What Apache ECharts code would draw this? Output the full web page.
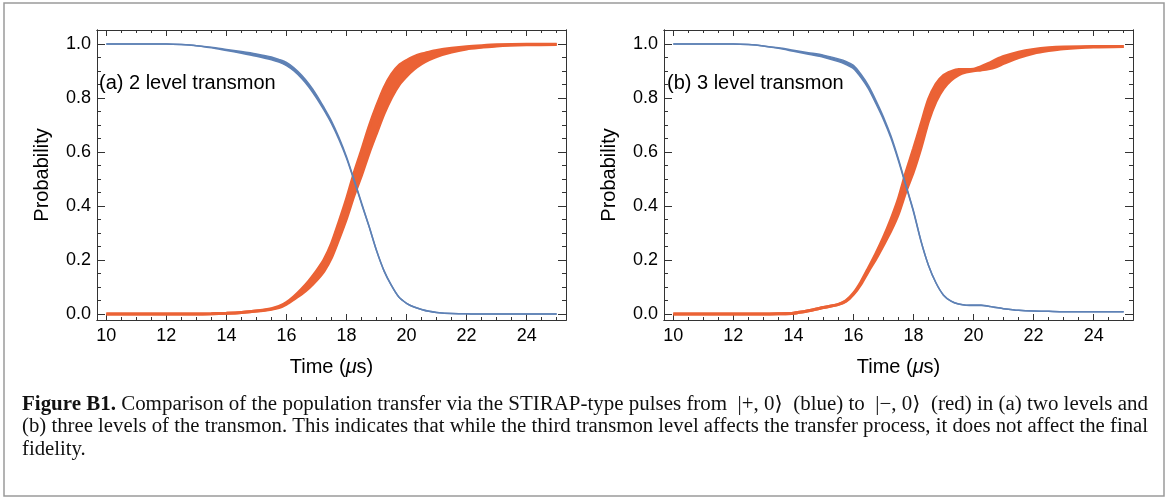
<!DOCTYPE html>
<html><head><meta charset="utf-8">
<script src="https://cdn.jsdelivr.net/npm/echarts@6/dist/echarts.min.js"></script>
<style>html,body{margin:0;padding:0;background:#fff}#c{width:1168px;height:499px}</style>
</head><body><div id="c"></div>
<script>
// ---- data ----
const time = [10, 11, 12, 12.5, 13, 13.5, 14, 14.5, 15, 15.5, 15.75, 16, 16.25, 16.5, 16.75, 17, 17.25, 17.5, 17.75, 18, 18.25, 18.5, 18.75, 19, 19.25, 19.5, 19.75, 20, 20.25, 20.5, 20.75, 21, 21.5, 22, 22.5, 23, 24, 25];

// (a) 2 level transmon
const blueA    = [1, 1, 1, 0.998, 0.994, 0.987, 0.978, 0.969, 0.959, 0.947, 0.938, 0.926, 0.906, 0.879, 0.846, 0.806, 0.76, 0.71, 0.65, 0.58, 0.497, 0.41, 0.325, 0.235, 0.16, 0.105, 0.062, 0.04, 0.026, 0.017, 0.01, 0.006, 0.002, 0.001, 0, 0, 0, 0];
const blueAOsc = [0, 0, 0, 0, 0, 0.001, 0.002, 0.003, 0.004, 0.005, 0.005, 0.006, 0.006, 0.006, 0.006, 0.006, 0.005, 0.005, 0.004, 0.003, 0.002, 0.002, 0.001, 0.001, 0, 0, 0, 0, 0, 0, 0, 0, 0, 0, 0, 0, 0, 0];
const redA     = [0, 0, 0, 0, 0, 0.001, 0.003, 0.006, 0.011, 0.019, 0.026, 0.04, 0.06, 0.083, 0.11, 0.142, 0.18, 0.235, 0.31, 0.39, 0.48, 0.56, 0.645, 0.72, 0.79, 0.845, 0.885, 0.91, 0.93, 0.945, 0.956, 0.965, 0.977, 0.986, 0.991, 0.995, 0.998, 0.999];
const redAOsc  = [0, 0, 0, 0, 0, 0, 0, 0, 0, 0.001, 0.002, 0.003, 0.005, 0.009, 0.013, 0.017, 0.021, 0.026, 0.031, 0.036, 0.041, 0.046, 0.049, 0.05, 0.048, 0.043, 0.036, 0.029, 0.023, 0.018, 0.014, 0.011, 0.007, 0.004, 0.003, 0.002, 0.001, 0.0005];

// (b) 3 level transmon
const blueB    = [1, 1, 1, 0.998, 0.993, 0.985, 0.975, 0.965, 0.955, 0.94, 0.93, 0.915, 0.882, 0.84, 0.785, 0.725, 0.655, 0.57, 0.475, 0.38, 0.27, 0.18, 0.115, 0.07, 0.048, 0.037, 0.033, 0.033, 0.033, 0.029, 0.024, 0.02, 0.014, 0.011, 0.01, 0.009, 0.009, 0.009];
const blueBOsc = [0, 0, 0, 0, 0, 0.001, 0.002, 0.003, 0.004, 0.005, 0.006, 0.006, 0.006, 0.006, 0.006, 0.005, 0.004, 0.003, 0.002, 0.002, 0.001, 0, 0, 0, 0, 0, 0, 0.001, 0.001, 0, 0, 0, 0, 0, 0, 0, 0, 0];
const redB     = [0, 0, 0, 0, 0, 0.001, 0.003, 0.012, 0.024, 0.036, 0.048, 0.075, 0.115, 0.165, 0.215, 0.27, 0.33, 0.4, 0.49, 0.57, 0.66, 0.755, 0.82, 0.86, 0.882, 0.896, 0.901, 0.904, 0.91, 0.918, 0.929, 0.941, 0.96, 0.973, 0.981, 0.986, 0.99, 0.991];
const redBOsc  = [0, 0, 0, 0, 0, 0, 0, 0, 0, 0, 0.001, 0.002, 0.004, 0.006, 0.01, 0.014, 0.021, 0.028, 0.035, 0.042, 0.044, 0.04, 0.032, 0.024, 0.016, 0.01, 0.005, 0.003, 0.006, 0.01, 0.013, 0.013, 0.01, 0.007, 0.005, 0.003, 0.001, 0];

// ticks / labels
const xMajor = [10, 12, 14, 16, 18, 20, 22, 24];
const yMajor = [0, 0.2, 0.4, 0.6, 0.8, 1.0];
const xMinor = []; for (let v = 10; v <= 25.001; v += 0.5) xMinor.push(+v.toFixed(2));
const yMinor = []; for (let v = 0; v <= 1.0501; v += 0.05) yMinor.push(+v.toFixed(2));
const panelLabels = ['(a) 2 level transmon', '(b) 3 level transmon'];
const xName = 'Time';
const yName = 'Probability';
const captionBold = 'Figure B1.';
const captionLines = [
  ' Comparison of the population transfer via the STIRAP-type pulses from  |+, 0\u27E9  (blue) to  |\u2212, 0\u27E9  (red) in (a) two levels and',
  '(b) three levels of the transmon. This indicates that while the third transmon level affects the transfer process, it does not affect the final',
  'fidelity.'
];

// ---- layout ----
const XMIN = 9.69, XMAX = 25.31, YMIN = -0.022, YMAX = 1.052;
const SANS = '"Liberation Sans", Arial, sans-serif';
const SERIF = '"Liberation Serif", "DejaVu Serif", serif';
const BLUE = '#5E81B5', RED = '#EB6235', FRAME = '#333';
const grids = [
  { left: 97, top: 30, width: 469, height: 290, containLabel: false, outerBoundsMode: 'none' },
  { left: 664, top: 30, width: 469, height: 290, containLabel: false, outerBoundsMode: 'none' }
];

function xAxes(g) {
  const base = { gridIndex: g, type: 'value', min: XMIN, max: XMAX, splitLine: { show: false },
    axisLine: { show: true, onZero: false, lineStyle: { color: FRAME, width: 1 } } };
  return [
    Object.assign({}, base, { position: 'bottom',
      axisTick: { show: true, inside: true, length: 6, customValues: xMajor, lineStyle: { color: FRAME } },
      axisLabel: { show: true, customValues: xMajor, fontSize: 18, color: '#000', fontFamily: SANS, margin: 7 },
      name: xName + ' ({i|\u03BC}s)', nameLocation: 'middle', nameGap: 37,
      nameTextStyle: { fontSize: 20, color: '#000', fontFamily: SANS,
        rich: { i: { fontStyle: 'italic', fontSize: 20, fontFamily: SANS, color: '#000' } } } }),
    Object.assign({}, base, { position: 'bottom',
      axisTick: { show: true, inside: true, length: 3, customValues: xMinor, lineStyle: { color: FRAME } },
      axisLabel: { show: false } }),
    Object.assign({}, base, { position: 'top',
      axisTick: { show: true, inside: true, length: 6, customValues: xMajor, lineStyle: { color: FRAME } },
      axisLabel: { show: false } }),
    Object.assign({}, base, { position: 'top',
      axisTick: { show: true, inside: true, length: 3, customValues: xMinor, lineStyle: { color: FRAME } },
      axisLabel: { show: false } })
  ];
}
function yAxes(g) {
  const base = { gridIndex: g, type: 'value', min: YMIN, max: YMAX, splitLine: { show: false },
    axisLine: { show: true, onZero: false, lineStyle: { color: FRAME, width: 1 } } };
  return [
    Object.assign({}, base, { position: 'left',
      axisTick: { show: true, inside: true, length: 8, customValues: yMajor, lineStyle: { color: FRAME } },
      axisLabel: { show: true, customValues: yMajor, fontSize: 18, color: '#000', fontFamily: SANS, margin: 6,
        formatter: v => v.toFixed(1) },
      name: yName, nameLocation: 'middle', nameGap: 45, nameRotate: 90,
      nameTextStyle: { fontSize: 20, color: '#000', fontFamily: SANS } }),
    Object.assign({}, base, { position: 'left',
      axisTick: { show: true, inside: true, length: 4, customValues: yMinor, lineStyle: { color: FRAME } },
      axisLabel: { show: false } }),
    Object.assign({}, base, { position: 'right',
      axisTick: { show: true, inside: true, length: 8, customValues: yMajor, lineStyle: { color: FRAME } },
      axisLabel: { show: false } }),
    Object.assign({}, base, { position: 'right',
      axisTick: { show: true, inside: true, length: 4, customValues: yMinor, lineStyle: { color: FRAME } },
      axisLabel: { show: false } })
  ];
}

function band(g, center, osc, color) {
  return {
    type: 'custom', xAxisIndex: g * 4, yAxisIndex: g * 4, silent: true, clip: true,
    data: [[time[0], center[0]]],
    renderItem: function (params, api) {
      const up = [], dn = [];
      for (let i = 0; i < time.length; i++) {
        up.push(api.coord([time[i], center[i] + osc[i]]));
        dn.push(api.coord([time[i], center[i] - osc[i]]));
      }
      return { type: 'polygon', shape: { points: up.concat(dn.reverse()) }, style: { fill: color } };
    }
  };
}
function edge(g, center, osc, sign, color, width) {
  return {
    type: 'line', xAxisIndex: g * 4, yAxisIndex: g * 4, silent: true, symbol: 'none', showSymbol: false,
    smooth: 0.25, clip: true,
    data: time.map((t, i) => [t, center[i] + sign * osc[i]]),
    lineStyle: { color: color, width: width }
  };
}
function curveSeries(g, center, osc, color, width) {
  return [band(g, center, osc, color), edge(g, center, osc, -1, color, width), edge(g, center, osc, 1, color, width)];
}

const series = [].concat(
  curveSeries(0, redA, redAOsc, RED, 3),
  curveSeries(0, blueA, blueAOsc, BLUE, 1.5),
  curveSeries(1, redB, redBOsc, RED, 3),
  curveSeries(1, blueB, blueBOsc, BLUE, 1.5)
);

// caption text scaling (justified lines)
const CAP_FONT = 20, CAP_LEFT = 22, CAP_RIGHT = 1148;
const ctx = document.createElement('canvas').getContext('2d');
function w(text, bold) { ctx.font = (bold ? 'bold ' : '') + CAP_FONT + 'px ' + SERIF; return ctx.measureText(text).width; }
const l1w = w(captionBold, true) + w(captionLines[0], false);
const l2w = w(captionLines[1], false);
const s1 = (CAP_RIGHT - CAP_LEFT) / l1w, s2 = (CAP_RIGHT - CAP_LEFT) / l2w;
const capYs = [405, 427, 450];

const graphic = [
  { type: 'rect', shape: { x: 4, y: 3, width: 1160, height: 493 }, style: { fill: 'none', stroke: '#9a9a9a', lineWidth: 1.5 }, silent: true, z: -1 },
  { type: 'text', x: 99, y: 83, style: { text: panelLabels[0], font: '20px ' + SANS, fill: '#000', textVerticalAlign: 'middle' }, z: 10 },
  { type: 'text', x: 667, y: 83, style: { text: panelLabels[1], font: '20px ' + SANS, fill: '#000', textVerticalAlign: 'middle' }, z: 10 },
  { type: 'text', x: CAP_LEFT, y: capYs[0], scaleX: s1,
    style: { text: '{b|' + captionBold + '}' + captionLines[0], font: CAP_FONT + 'px ' + SERIF, fill: '#111', textVerticalAlign: 'middle',
      rich: { b: { fontWeight: 'bold', fontSize: CAP_FONT, fontFamily: SERIF, fill: '#111' } } } },
  { type: 'text', x: CAP_LEFT, y: capYs[1], scaleX: s2,
    style: { text: captionLines[1], font: CAP_FONT + 'px ' + SERIF, fill: '#111', textVerticalAlign: 'middle' } },
  { type: 'text', x: CAP_LEFT, y: capYs[2], scaleX: s2,
    style: { text: captionLines[2], font: CAP_FONT + 'px ' + SERIF, fill: '#111', textVerticalAlign: 'middle' } }
];

const chart = echarts.init(document.getElementById('c'), null, { renderer: 'canvas' });
chart.setOption({
  animation: false,
  backgroundColor: '#fff',
  grid: grids,
  xAxis: [].concat(xAxes(0), xAxes(1)),
  yAxis: [].concat(yAxes(0), yAxes(1)),
  series: series,
  graphic: graphic
});
</script></body></html>
